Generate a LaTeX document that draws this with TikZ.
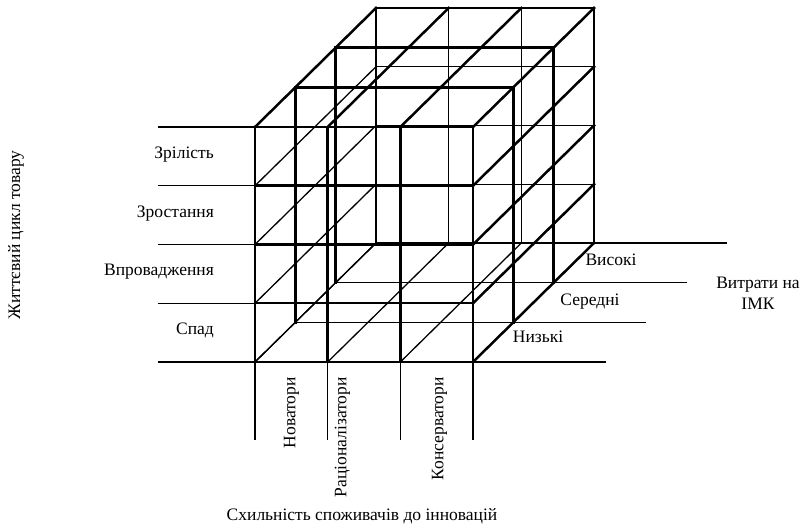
\documentclass[tikz,border=0pt]{standalone}
\usepackage{fontspec}
\setmainfont{Liberation Serif}
\begin{document}
\begin{tikzpicture}[x=1pt,y=1pt,
  heavy/.style={line width=2.5pt, line cap=rect},
  light/.style={line width=1.3pt},
  lbl/.style={inner sep=0pt, font=\fontsize{17.5}{21}\selectfont},
]
\useasboundingbox (0,0) rectangle (809,528);

% 3 x 4 x 3 cell block: x = consumer groups, y = life-cycle stages, z = IMC cost levels
\begin{scope}[shift={(255pt,166pt)},
  x={(72.67pt,0pt)}, y={(0pt,58.75pt)}, z={(40.33pt,39.67pt)}]
  % hidden faces: back, left and bottom grids
  \foreach \i in {0,...,3} \draw[light] (\i,0,3) -- (\i,4,3);
  \foreach \j in {0,...,4} \draw[light] (0,\j,3) -- (3,\j,3);
  \foreach \j in {0,...,3} \draw[light] (0,\j,0) -- (0,\j,3);
  \foreach \k in {1,2,3} \draw[light] (0,0,\k) -- (3,0,\k);
  \foreach \i in {0,1,2} \draw[light] (\i,0,0) -- (\i,0,3);
  % guide lines for the three axes' labels
  \foreach \j in {0,...,4} \draw[light] (-1.34,\j,0) -- (0,\j,0);
  \foreach \i in {0,...,3} \draw[light] (\i,0,0) -- (\i,-1.33,0);
  \foreach \k in {0,...,3} \draw[light] (3,0,\k) -- (4.83,0,\k);
  % visible faces: front, top and right grids
  \foreach \i in {0,...,3} \draw[heavy] (\i,0,0) -- (\i,4,0);
  \foreach \j in {0,...,4} \draw[heavy] (0,\j,0) -- (3,\j,0);
  \foreach \k in {1,2,3} \draw[heavy] (0,4,\k) -- (3,4,\k);
  \foreach \i in {0,...,3} \draw[heavy] (\i,4,0) -- (\i,4,3);
  \foreach \j in {0,...,3} \draw[heavy] (3,\j,0) -- (3,\j,3);
  \foreach \k in {1,2,3} \draw[heavy] (3,0,\k) -- (3,4,\k);
  % inner slice edges on the left face
  \foreach \k in {1,2} \draw[heavy] (0,0,\k) -- (0,4,\k);
\end{scope}

% life-cycle stages
\node[lbl, anchor=mid east] (st4) at (214,371.5) {Зрілість};
\node[lbl, anchor=mid east] (st3) at (214,313) {Зростання};
\node[lbl, anchor=mid east] (st2) at (214,254.5) {Впровадження};
\node[lbl, anchor=mid east] (st1) at (214,195.5) {Спад};
\node[lbl, rotate=90] (lc) at (16,293) {Життєвий цикл товару};

% consumer groups
\node[lbl, rotate=90, anchor=mid east] (g1) at (293,151) {Новатори};
\node[lbl, rotate=90, anchor=mid east] (g2) at (344,151) {Раціоналізатори};
\node[lbl, rotate=90, anchor=mid east] (g3) at (441,151) {Консерватори};
\node[lbl, anchor=mid] (inn) at (362,10) {Схильність споживачів до інновацій};

% IMC cost levels
\node[lbl, anchor=mid] (c3) at (611,265) {Високі};
\node[lbl, anchor=mid] (c2) at (590,225) {Середні};
\node[lbl, anchor=mid] (c1) at (538,188) {Низькі};
\node[lbl, align=center] (imc) at (758,235) {Витрати на\\ІМК};
\end{tikzpicture}
\end{document}
